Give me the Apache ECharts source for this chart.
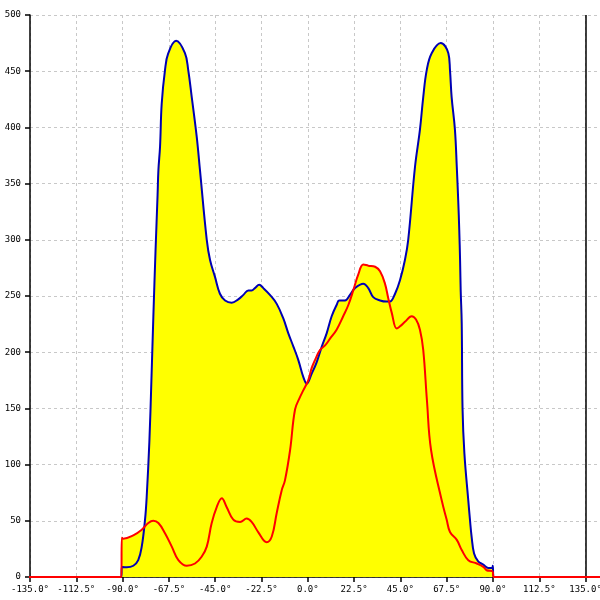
<!DOCTYPE html>
<html><head><meta charset="utf-8">
<script src="https://cdn.jsdelivr.net/npm/echarts@6/dist/echarts.min.js"></script>
<style>html,body{margin:0;padding:0;background:#fff;overflow:hidden}#c{width:600px;height:600px}</style>
</head><body><div id="c"></div>
<script>
var blueAngles = [-150,-90.6,-90.4,-88,-84.8,-82.4,-80.7,-79.1,-78.3,-77,-76,-75,-74,-73,-72.6,-71.8,-71.0,-69.4,-67.8,-64.0,-59.7,-58.1,-56.4,-54.0,-52.4,-49.1,-47.5,-45.1,-42.7,-40.2,-37.0,-33.8,-31.3,-28.9,-27.3,-25.7,-23.6,-21.6,-18.4,-15.1,-11.9,-9.5,-7.0,-4.6,-2.2,-0.5,1.9,4.3,6.8,9.2,11.6,14.0,15.3,18.1,20.5,22.9,27.0,29.4,31.8,35.1,38.3,39.9,42.4,44.8,47.2,48.8,52.1,54.5,56.1,57.8,60.2,64.6,68.3,69.1,69.9,71.5,72.4,73.1,73.6,74.0,74.3,74.8,75.2,76.1,78.0,78.8,79.6,80.8,82.8,85.3,87.7,89.7,89.9,90.3,142];
var blueValues = [0,0,9,8.6,10,15,27,51,71,120,175,235,290,340,362,383,421,451,466,477,466,451,427,392,362,300,282,267,252,246,244,247,251,255,255,257,260,257,251,243,230,217,205,193,178,172,181,191,205,217,232,242,246,246,251,257,261,257,249,246,245,245,252,264,282,300,365,398,427,451,466,475,466,451,427,398,365,335,309,282,255,226,150,110,68,51,36,21,14,11,8,8,10,0,0];
var redAngles = [-150,-90.6,-90.4,-89.7,-84.8,-80.7,-77.5,-75.1,-72.6,-69.4,-66.1,-62.9,-58.8,-54.8,-51.6,-49.1,-46.7,-44.3,-41.8,-39.4,-36.2,-32.9,-29.7,-27.3,-24.1,-20.0,-17.5,-15.1,-12.7,-11.1,-8.6,-6.2,-3.8,-2.2,0.2,1.9,3.5,5.9,8.4,10.8,14.0,17.2,19.7,22.1,24.5,27.0,29.4,32.7,35.1,37.5,39.1,40.8,43.2,44.8,47.2,50.5,52.6,54.5,56.1,57.9,59.9,65.1,67.5,69.1,72.4,74.8,78.0,82.1,85.3,86.9,89.8,90.3,142];
var redValues = [0,0,35,34,37,42,48,50,48,39,27,15,10,12,18,27,48,62,70,62,51,49,52,49,40,31,36,57,77,86,113,149,160,166,175,186,193,202,206,212,220,232,242,255,269,278,277,276,272,261,248,235,221,223,227,232,229,220,202,157,113,68,51,40,33,24,15,12,9,6,5,0,0];
var yTicks = [0,50,100,150,200,250,300,350,400,450,500];

function pairs(xs, ys){ return xs.map(function(x,i){ return [x, ys[i]]; }); }
var blueData = pairs(blueAngles, blueValues);
var redData = pairs(redAngles, redValues);

var chart = echarts.init(document.getElementById('c'), null, {renderer:'canvas'});
var font = {fontFamily:'DejaVu Sans Mono', fontSize:9, color:'#000'};
var gridLine = {show:true, lineStyle:{color:'#c8c8c8', type:[3,3], width:1}};
chart.setOption({
  animation:false,
  backgroundColor:'#fff',
  grid:{left:30, right:0, top:15, bottom:23, containLabel:false, outerBoundsMode:'none'},
  xAxis:{type:'value', min:-135, max:142, interval:22.5,
    axisLine:{show:true, onZero:false, lineStyle:{color:'#000', width:1.5}},
    axisTick:{show:true, length:5, lineStyle:{color:'#000', width:1.5}},
    axisLabel:Object.assign({margin:8, showMaxLabel:false, hideOverlap:false, formatter:function(v){return v.toFixed(1)+'\u00b0';}}, font),
    splitLine:gridLine},
  yAxis:{type:'value', min:yTicks[0], max:yTicks[yTicks.length-1], interval:50,
    axisLine:{show:true, onZero:false, lineStyle:{color:'#000', width:1.5}},
    axisTick:{show:true, length:5, lineStyle:{color:'#000', width:1.5}},
    axisLabel:Object.assign({margin:9}, font),
    splitLine:gridLine},
  series:[
    {type:'line', name:'redArea', data:redData, smooth:0.4, symbol:'none', z:1,
      lineStyle:{width:0, opacity:0}, areaStyle:{color:'#ffff00', opacity:1}},
    {type:'line', name:'blue', data:blueData, smooth:0.4, symbol:'none', z:2,
      lineStyle:{color:'#0000b4', width:2}, areaStyle:{color:'#ffff00', opacity:1}},
    {type:'line', name:'red', data:redData, smooth:0.4, symbol:'none', z:5, zlevel:0, clip:false,
      lineStyle:{color:'#ff0000', width:2},
      markLine:{silent:true, symbol:'none', label:{show:false}, lineStyle:{color:'#000', width:1.5, type:'solid'},
        data:[{xAxis:135}]}}
  ]
});
</script></body></html>
